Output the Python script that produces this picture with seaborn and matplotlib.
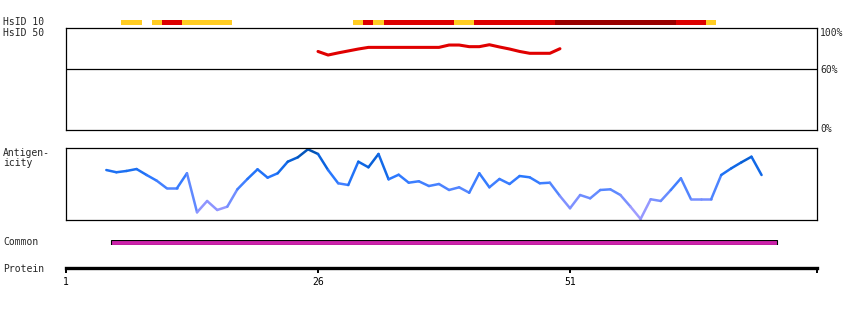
import numpy as np
import pandas as pd
import seaborn as sns
import matplotlib
matplotlib.use("Agg")
import matplotlib.pyplot as plt
from matplotlib.collections import LineCollection
from matplotlib.colors import LinearSegmentedColormap, Normalize

# ---------------- data ----------------
hsid10_start = [7, 10, 11, 13, 30, 31, 32, 33, 40, 42, 50, 62, 65]
hsid10_end = [8, 10, 12, 17, 30, 31, 32, 39, 41, 49, 61, 64, 65]
hsid10_level = ["mid", "mid", "high", "mid", "mid", "high", "mid", "high", "mid",
                "high", "top", "high", "mid"]

hsid50_res = list(range(26, 51))
hsid50_pct = [77, 73.5, 75.6, 77.5, 79.4, 81, 81, 81, 81, 81, 81, 81, 81,
              83.3, 83.3, 81.7, 81.7, 83.6, 81.4, 79.4, 77, 75.2, 75.2, 75.2, 79.7]

antigen_res = list(range(5, 71))
antigen_val = [69.4, 66.3, 68.1, 70.8, 62.5, 54.6, 44.0, 44.0, 64.9, 10.7,
               26.4, 13.9, 18.5, 42.6, 57.0, 70.4, 58.8, 64.9, 81.0, 87.1,
               98.2, 91.7, 69.4, 51.0, 48.6, 81.0, 73.2, 91.7, 56.5, 62.9,
               51.8, 53.8, 47.2, 50.0, 41.7, 45.4, 37.9, 64.9, 45.4, 57.0,
               50.0, 61.1, 59.3, 51.0, 51.8, 33.3, 16.3, 34.7, 30.1, 41.7,
               42.6, 34.7, 18.5, 1.4, 28.8, 26.4, 41.7, 57.9, 28.8, 28.8,
               28.8, 62.5, 71.8, 80.1, 87.9, 62.5]

common_start, common_end = 6, 71
protein_ticks = [1, 26, 51]
protein_end = 75.5

# ---------------- style ----------------
sns.set_theme(style="white")
plt.rcParams["font.family"] = ["DejaVu Sans Mono"]
FS = 7

W, H = 850, 310
fig = plt.figure(figsize=(W / 100, H / 100), dpi=100)
fig.patch.set_facecolor("white")

X0, X1 = 66, 817
XLIM = (1, protein_end)


def add_ax(top, bottom, left=X0, right=X1):
    return fig.add_axes([left / W, 1 - bottom / H, (right - left) / W, (bottom - top) / H])


def ftext(x, y, s, **kw):
    fig.text(x / W, 1 - y / H, s, fontsize=FS, va="center", **kw)


level_colors = {"mid": "#ffcc22", "high": "#dd0000", "top": "#990000"}

# ---- HsID 10 bar ----
ax10 = add_ax(20, 25)
ax10.set_xlim(*XLIM)
ax10.set_ylim(0, 1)
for s, e, lv in zip(hsid10_start, hsid10_end, hsid10_level):
    ax10.barh(0.5, e - s + 1, left=s - 0.5, height=1.0, color=level_colors[lv],
              edgecolor="none")
ax10.axis("off")

# ---- HsID 50 panel ----
ax50 = add_ax(28, 130)
ax50.set_xlim(*XLIM)
ax50.set_ylim(0, 100)
df50 = pd.DataFrame({"res": hsid50_res, "pct": hsid50_pct})
sns.lineplot(data=df50, x="res", y="pct", ax=ax50, color="#e00000", lw=2.2)
ax50.axhline(60, color="black", lw=0.9)
ax50.set_xticks([])
ax50.set_yticks([])
ax50.set_xlabel("")
ax50.set_ylabel("")
for sp in ax50.spines.values():
    sp.set_visible(True)
    sp.set_color("black")
    sp.set_linewidth(0.9)

# ---- Antigenicity panel ----
axa = add_ax(148, 220)
axa.set_xlim(*XLIM)
axa.set_ylim(0, 100)
cmap = LinearSegmentedColormap.from_list(
    "ag", [(0.0, "#b0a4ff"), (0.2, "#8c94ff"), (0.4, "#5a88ff"),
           (0.6, "#2a78ff"), (0.8, "#0a64e0"), (1.0, "#004ea8")])
pts = np.column_stack([antigen_res, antigen_val])
segs = np.stack([pts[:-1], pts[1:]], axis=1)
mids = (np.array(antigen_val[:-1]) + np.array(antigen_val[1:])) / 2
lc = LineCollection(segs, colors=cmap(Normalize(0, 100)(mids)), linewidths=1.8,
                    capstyle="round")
axa.add_collection(lc)
axa.set_xticks([])
axa.set_yticks([])
for sp in axa.spines.values():
    sp.set_visible(True)
    sp.set_color("black")
    sp.set_linewidth(0.9)

# ---- Common ----
axc = add_ax(240, 245)
axc.set_xlim(*XLIM)
axc.set_ylim(0, 1)
axc.barh(0.5, common_end - common_start + 1, left=common_start - 0.5, height=1.0,
         color="#cc22aa", edgecolor="black", linewidth=0.8)
axc.axis("off")

# ---- Protein axis ----
axp = add_ax(262, 268)
axp.set_xlim(*XLIM)
axp.set_ylim(0, 1)
axp.set_yticks([])
for k in ["top", "left", "right"]:
    axp.spines[k].set_visible(False)
axp.spines["bottom"].set_visible(True)
axp.spines["bottom"].set_color("black")
axp.spines["bottom"].set_linewidth(2.4)
axp.set_xticks(protein_ticks + [protein_end])
axp.set_xticklabels([str(t) for t in protein_ticks] + [""])
axp.tick_params(axis="x", direction="out", length=3.5, width=1.4, pad=3,
                labelsize=FS, bottom=True, colors="black")
axp.patch.set_alpha(0)

# ---- labels ----
ftext(3, 22, "HsID 10")
ftext(3, 33, "HsID 50")
ftext(3, 153, "Antigen-")
ftext(3, 163, "icity")
ftext(3, 242, "Common")
ftext(3, 269, "Protein")
ftext(820, 33, "100%")
ftext(820, 70, "60%")
ftext(820, 129, "0%")

fig.savefig("out.png", dpi=100, facecolor="white")
